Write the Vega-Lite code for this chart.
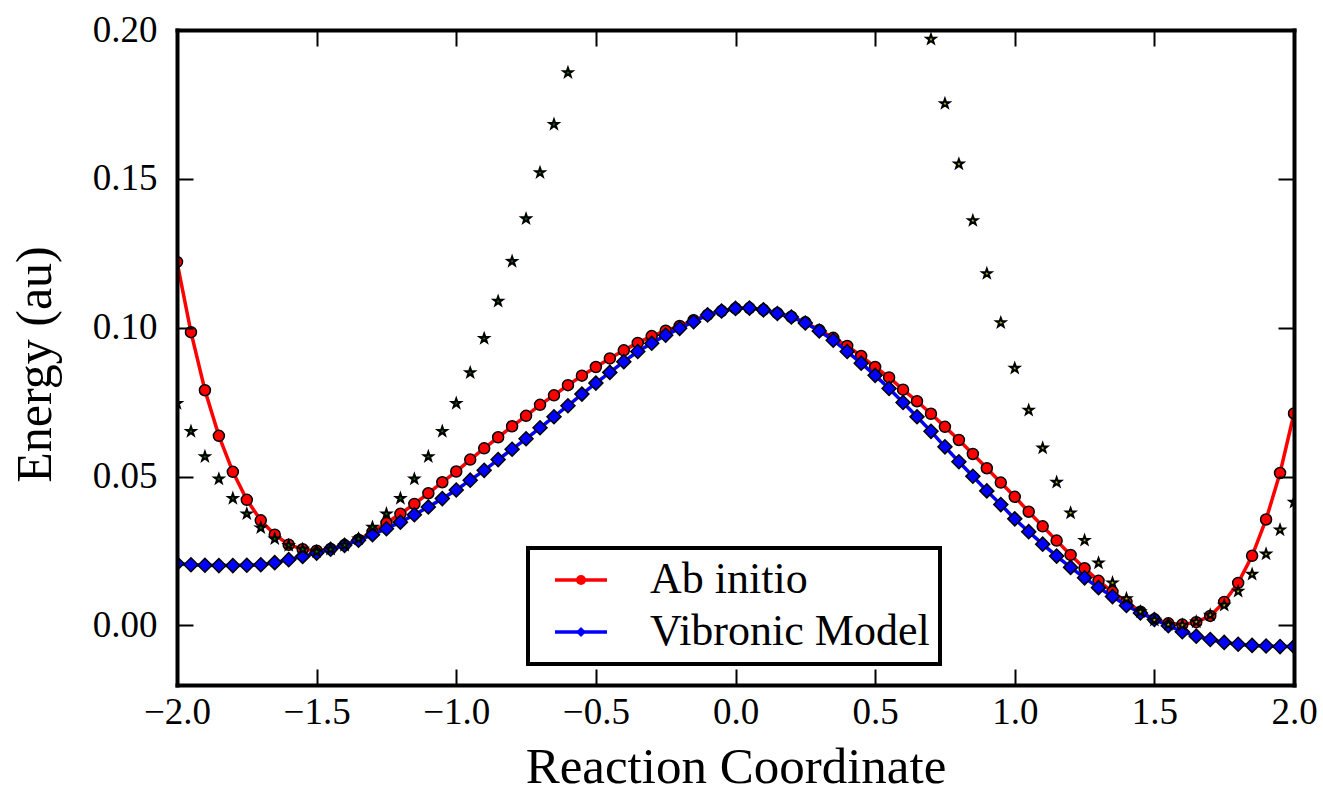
{
  "$schema": "https://vega.github.io/schema/vega-lite/v6.json",
  "width": 1117,
  "height": 655,
  "autosize": "none",
  "padding": {"left": 177, "top": 30, "right": 29, "bottom": 117},
  "background": "white",
  "config": {"view": {"stroke": null}, "font": "Liberation Serif", "legend": {"strokeWidth": 4}},
  "datasets": {
    "curves": [
      {"x": -2.0, "y": 0.1221, "series": "Ab initio"},
      {"x": -1.95, "y": 0.0985, "series": "Ab initio"},
      {"x": -1.9, "y": 0.079, "series": "Ab initio"},
      {"x": -1.85, "y": 0.0637, "series": "Ab initio"},
      {"x": -1.8, "y": 0.0516, "series": "Ab initio"},
      {"x": -1.75, "y": 0.0422, "series": "Ab initio"},
      {"x": -1.7, "y": 0.0353, "series": "Ab initio"},
      {"x": -1.65, "y": 0.0305, "series": "Ab initio"},
      {"x": -1.6, "y": 0.0271, "series": "Ab initio"},
      {"x": -1.55, "y": 0.0256, "series": "Ab initio"},
      {"x": -1.5, "y": 0.0251, "series": "Ab initio"},
      {"x": -1.45, "y": 0.0257, "series": "Ab initio"},
      {"x": -1.4, "y": 0.027, "series": "Ab initio"},
      {"x": -1.35, "y": 0.0288, "series": "Ab initio"},
      {"x": -1.3, "y": 0.0314, "series": "Ab initio"},
      {"x": -1.25, "y": 0.0344, "series": "Ab initio"},
      {"x": -1.2, "y": 0.0375, "series": "Ab initio"},
      {"x": -1.15, "y": 0.0408, "series": "Ab initio"},
      {"x": -1.1, "y": 0.0444, "series": "Ab initio"},
      {"x": -1.05, "y": 0.0481, "series": "Ab initio"},
      {"x": -1.0, "y": 0.0517, "series": "Ab initio"},
      {"x": -0.95, "y": 0.0557, "series": "Ab initio"},
      {"x": -0.9, "y": 0.0595, "series": "Ab initio"},
      {"x": -0.85, "y": 0.0632, "series": "Ab initio"},
      {"x": -0.8, "y": 0.0669, "series": "Ab initio"},
      {"x": -0.75, "y": 0.0704, "series": "Ab initio"},
      {"x": -0.7, "y": 0.0741, "series": "Ab initio"},
      {"x": -0.65, "y": 0.0773, "series": "Ab initio"},
      {"x": -0.6, "y": 0.0807, "series": "Ab initio"},
      {"x": -0.55, "y": 0.0839, "series": "Ab initio"},
      {"x": -0.5, "y": 0.0868, "series": "Ab initio"},
      {"x": -0.45, "y": 0.0897, "series": "Ab initio"},
      {"x": -0.4, "y": 0.0924, "series": "Ab initio"},
      {"x": -0.35, "y": 0.0949, "series": "Ab initio"},
      {"x": -0.3, "y": 0.0972, "series": "Ab initio"},
      {"x": -0.25, "y": 0.099, "series": "Ab initio"},
      {"x": -0.2, "y": 0.1006, "series": "Ab initio"},
      {"x": -0.15, "y": 0.1025, "series": "Ab initio"},
      {"x": -0.1, "y": 0.1043, "series": "Ab initio"},
      {"x": -0.05, "y": 0.1056, "series": "Ab initio"},
      {"x": 0.0, "y": 0.1065, "series": "Ab initio"},
      {"x": 0.05, "y": 0.1066, "series": "Ab initio"},
      {"x": 0.1, "y": 0.106, "series": "Ab initio"},
      {"x": 0.15, "y": 0.1049, "series": "Ab initio"},
      {"x": 0.2, "y": 0.1037, "series": "Ab initio"},
      {"x": 0.25, "y": 0.1018, "series": "Ab initio"},
      {"x": 0.3, "y": 0.0992, "series": "Ab initio"},
      {"x": 0.35, "y": 0.0966, "series": "Ab initio"},
      {"x": 0.4, "y": 0.0939, "series": "Ab initio"},
      {"x": 0.45, "y": 0.0905, "series": "Ab initio"},
      {"x": 0.5, "y": 0.0868, "series": "Ab initio"},
      {"x": 0.55, "y": 0.0833, "series": "Ab initio"},
      {"x": 0.6, "y": 0.0792, "series": "Ab initio"},
      {"x": 0.65, "y": 0.0753, "series": "Ab initio"},
      {"x": 0.7, "y": 0.0711, "series": "Ab initio"},
      {"x": 0.75, "y": 0.0667, "series": "Ab initio"},
      {"x": 0.8, "y": 0.0623, "series": "Ab initio"},
      {"x": 0.85, "y": 0.0576, "series": "Ab initio"},
      {"x": 0.9, "y": 0.0528, "series": "Ab initio"},
      {"x": 0.95, "y": 0.048, "series": "Ab initio"},
      {"x": 1.0, "y": 0.0432, "series": "Ab initio"},
      {"x": 1.05, "y": 0.0382, "series": "Ab initio"},
      {"x": 1.1, "y": 0.0333, "series": "Ab initio"},
      {"x": 1.15, "y": 0.0285, "series": "Ab initio"},
      {"x": 1.2, "y": 0.0237, "series": "Ab initio"},
      {"x": 1.25, "y": 0.0192, "series": "Ab initio"},
      {"x": 1.3, "y": 0.015, "series": "Ab initio"},
      {"x": 1.35, "y": 0.0113, "series": "Ab initio"},
      {"x": 1.4, "y": 0.0079, "series": "Ab initio"},
      {"x": 1.45, "y": 0.0046, "series": "Ab initio"},
      {"x": 1.5, "y": 0.0021, "series": "Ab initio"},
      {"x": 1.55, "y": 0.0007, "series": "Ab initio"},
      {"x": 1.6, "y": 0.0003, "series": "Ab initio"},
      {"x": 1.65, "y": 0.0011, "series": "Ab initio"},
      {"x": 1.7, "y": 0.0032, "series": "Ab initio"},
      {"x": 1.75, "y": 0.0079, "series": "Ab initio"},
      {"x": 1.8, "y": 0.0143, "series": "Ab initio"},
      {"x": 1.85, "y": 0.0234, "series": "Ab initio"},
      {"x": 1.9, "y": 0.0356, "series": "Ab initio"},
      {"x": 1.95, "y": 0.0512, "series": "Ab initio"},
      {"x": 2.0, "y": 0.0712, "series": "Ab initio"},
      {"x": -2.0, "y": 0.0208, "series": "Vibronic Model"},
      {"x": -1.95, "y": 0.0204, "series": "Vibronic Model"},
      {"x": -1.9, "y": 0.0202, "series": "Vibronic Model"},
      {"x": -1.85, "y": 0.0201, "series": "Vibronic Model"},
      {"x": -1.8, "y": 0.0201, "series": "Vibronic Model"},
      {"x": -1.75, "y": 0.0202, "series": "Vibronic Model"},
      {"x": -1.7, "y": 0.0204, "series": "Vibronic Model"},
      {"x": -1.65, "y": 0.0211, "series": "Vibronic Model"},
      {"x": -1.6, "y": 0.0221, "series": "Vibronic Model"},
      {"x": -1.55, "y": 0.0232, "series": "Vibronic Model"},
      {"x": -1.5, "y": 0.0243, "series": "Vibronic Model"},
      {"x": -1.45, "y": 0.0256, "series": "Vibronic Model"},
      {"x": -1.4, "y": 0.0269, "series": "Vibronic Model"},
      {"x": -1.35, "y": 0.0286, "series": "Vibronic Model"},
      {"x": -1.3, "y": 0.0305, "series": "Vibronic Model"},
      {"x": -1.25, "y": 0.0325, "series": "Vibronic Model"},
      {"x": -1.2, "y": 0.0347, "series": "Vibronic Model"},
      {"x": -1.15, "y": 0.0372, "series": "Vibronic Model"},
      {"x": -1.1, "y": 0.0398, "series": "Vibronic Model"},
      {"x": -1.05, "y": 0.0426, "series": "Vibronic Model"},
      {"x": -1.0, "y": 0.0455, "series": "Vibronic Model"},
      {"x": -0.95, "y": 0.0488, "series": "Vibronic Model"},
      {"x": -0.9, "y": 0.0521, "series": "Vibronic Model"},
      {"x": -0.85, "y": 0.0557, "series": "Vibronic Model"},
      {"x": -0.8, "y": 0.0592, "series": "Vibronic Model"},
      {"x": -0.75, "y": 0.0627, "series": "Vibronic Model"},
      {"x": -0.7, "y": 0.0664, "series": "Vibronic Model"},
      {"x": -0.65, "y": 0.0701, "series": "Vibronic Model"},
      {"x": -0.6, "y": 0.0738, "series": "Vibronic Model"},
      {"x": -0.55, "y": 0.0777, "series": "Vibronic Model"},
      {"x": -0.5, "y": 0.0814, "series": "Vibronic Model"},
      {"x": -0.45, "y": 0.085, "series": "Vibronic Model"},
      {"x": -0.4, "y": 0.0886, "series": "Vibronic Model"},
      {"x": -0.35, "y": 0.092, "series": "Vibronic Model"},
      {"x": -0.3, "y": 0.0948, "series": "Vibronic Model"},
      {"x": -0.25, "y": 0.0975, "series": "Vibronic Model"},
      {"x": -0.2, "y": 0.0998, "series": "Vibronic Model"},
      {"x": -0.15, "y": 0.102, "series": "Vibronic Model"},
      {"x": -0.1, "y": 0.1043, "series": "Vibronic Model"},
      {"x": -0.05, "y": 0.1056, "series": "Vibronic Model"},
      {"x": 0.0, "y": 0.1065, "series": "Vibronic Model"},
      {"x": 0.05, "y": 0.1066, "series": "Vibronic Model"},
      {"x": 0.1, "y": 0.106, "series": "Vibronic Model"},
      {"x": 0.15, "y": 0.1048, "series": "Vibronic Model"},
      {"x": 0.2, "y": 0.1036, "series": "Vibronic Model"},
      {"x": 0.25, "y": 0.1016, "series": "Vibronic Model"},
      {"x": 0.3, "y": 0.0989, "series": "Vibronic Model"},
      {"x": 0.35, "y": 0.0958, "series": "Vibronic Model"},
      {"x": 0.4, "y": 0.092, "series": "Vibronic Model"},
      {"x": 0.45, "y": 0.0881, "series": "Vibronic Model"},
      {"x": 0.5, "y": 0.084, "series": "Vibronic Model"},
      {"x": 0.55, "y": 0.0796, "series": "Vibronic Model"},
      {"x": 0.6, "y": 0.0749, "series": "Vibronic Model"},
      {"x": 0.65, "y": 0.0701, "series": "Vibronic Model"},
      {"x": 0.7, "y": 0.0652, "series": "Vibronic Model"},
      {"x": 0.75, "y": 0.06, "series": "Vibronic Model"},
      {"x": 0.8, "y": 0.055, "series": "Vibronic Model"},
      {"x": 0.85, "y": 0.0501, "series": "Vibronic Model"},
      {"x": 0.9, "y": 0.0452, "series": "Vibronic Model"},
      {"x": 0.95, "y": 0.0406, "series": "Vibronic Model"},
      {"x": 1.0, "y": 0.0358, "series": "Vibronic Model"},
      {"x": 1.05, "y": 0.0315, "series": "Vibronic Model"},
      {"x": 1.1, "y": 0.0273, "series": "Vibronic Model"},
      {"x": 1.15, "y": 0.0233, "series": "Vibronic Model"},
      {"x": 1.2, "y": 0.0195, "series": "Vibronic Model"},
      {"x": 1.25, "y": 0.016, "series": "Vibronic Model"},
      {"x": 1.3, "y": 0.0127, "series": "Vibronic Model"},
      {"x": 1.35, "y": 0.0097, "series": "Vibronic Model"},
      {"x": 1.4, "y": 0.0067, "series": "Vibronic Model"},
      {"x": 1.45, "y": 0.0042, "series": "Vibronic Model"},
      {"x": 1.5, "y": 0.002, "series": "Vibronic Model"},
      {"x": 1.55, "y": -0.0001, "series": "Vibronic Model"},
      {"x": 1.6, "y": -0.0021, "series": "Vibronic Model"},
      {"x": 1.65, "y": -0.0036, "series": "Vibronic Model"},
      {"x": 1.7, "y": -0.0047, "series": "Vibronic Model"},
      {"x": 1.75, "y": -0.0057, "series": "Vibronic Model"},
      {"x": 1.8, "y": -0.0063, "series": "Vibronic Model"},
      {"x": 1.85, "y": -0.0067, "series": "Vibronic Model"},
      {"x": 1.9, "y": -0.0069, "series": "Vibronic Model"},
      {"x": 1.95, "y": -0.0071, "series": "Vibronic Model"},
      {"x": 2.0, "y": -0.0071, "series": "Vibronic Model"}
    ],
    "stars": [
      {"x": -2.0, "y": 0.0746, "curve": "left"},
      {"x": -1.95, "y": 0.0652, "curve": "left"},
      {"x": -1.9, "y": 0.0567, "curve": "left"},
      {"x": -1.85, "y": 0.0492, "curve": "left"},
      {"x": -1.8, "y": 0.0427, "curve": "left"},
      {"x": -1.75, "y": 0.0375, "curve": "left"},
      {"x": -1.7, "y": 0.0328, "curve": "left"},
      {"x": -1.65, "y": 0.0291, "curve": "left"},
      {"x": -1.6, "y": 0.0269, "curve": "left"},
      {"x": -1.55, "y": 0.0256, "curve": "left"},
      {"x": -1.5, "y": 0.0248, "curve": "left"},
      {"x": -1.45, "y": 0.0256, "curve": "left"},
      {"x": -1.4, "y": 0.0269, "curve": "left"},
      {"x": -1.35, "y": 0.0291, "curve": "left"},
      {"x": -1.3, "y": 0.033, "curve": "left"},
      {"x": -1.25, "y": 0.0375, "curve": "left"},
      {"x": -1.2, "y": 0.0427, "curve": "left"},
      {"x": -1.15, "y": 0.0492, "curve": "left"},
      {"x": -1.1, "y": 0.0567, "curve": "left"},
      {"x": -1.05, "y": 0.0652, "curve": "left"},
      {"x": -1.0, "y": 0.0746, "curve": "left"},
      {"x": -0.95, "y": 0.0849, "curve": "left"},
      {"x": -0.9, "y": 0.0964, "curve": "left"},
      {"x": -0.85, "y": 0.1089, "curve": "left"},
      {"x": -0.8, "y": 0.1223, "curve": "left"},
      {"x": -0.75, "y": 0.1366, "curve": "left"},
      {"x": -0.7, "y": 0.1521, "curve": "left"},
      {"x": -0.65, "y": 0.1683, "curve": "left"},
      {"x": -0.6, "y": 0.1857, "curve": "left"},
      {"x": 0.7, "y": 0.1969, "curve": "right"},
      {"x": 0.75, "y": 0.1753, "curve": "right"},
      {"x": 0.8, "y": 0.155, "curve": "right"},
      {"x": 0.85, "y": 0.136, "curve": "right"},
      {"x": 0.9, "y": 0.1182, "curve": "right"},
      {"x": 0.95, "y": 0.1017, "curve": "right"},
      {"x": 1.0, "y": 0.0864, "curve": "right"},
      {"x": 1.05, "y": 0.0723, "curve": "right"},
      {"x": 1.1, "y": 0.0596, "curve": "right"},
      {"x": 1.15, "y": 0.0481, "curve": "right"},
      {"x": 1.2, "y": 0.0378, "curve": "right"},
      {"x": 1.25, "y": 0.0286, "curve": "right"},
      {"x": 1.3, "y": 0.021, "curve": "right"},
      {"x": 1.35, "y": 0.0143, "curve": "right"},
      {"x": 1.4, "y": 0.009, "curve": "right"},
      {"x": 1.45, "y": 0.0046, "curve": "right"},
      {"x": 1.5, "y": 0.0018, "curve": "right"},
      {"x": 1.55, "y": 0.0003, "curve": "right"},
      {"x": 1.6, "y": 0.0001, "curve": "right"},
      {"x": 1.65, "y": 0.0012, "curve": "right"},
      {"x": 1.7, "y": 0.0035, "curve": "right"},
      {"x": 1.75, "y": 0.0068, "curve": "right"},
      {"x": 1.8, "y": 0.0115, "curve": "right"},
      {"x": 1.85, "y": 0.0172, "curve": "right"},
      {"x": 1.9, "y": 0.024, "curve": "right"},
      {"x": 1.95, "y": 0.0321, "curve": "right"},
      {"x": 2.0, "y": 0.0414, "curve": "right"}
    ]
  },
  "resolve": {"axis": {"x": "independent", "y": "independent"}},
  "layer": [
    {
      "data": {"name": "curves"},
      "transform": [{"filter": "datum.series === 'Ab initio'"}],
      "mark": {"type": "line", "strokeWidth": 3.5, "clip": true},
      "encoding": {
        "x": {
          "field": "x", "type": "quantitative",
          "scale": {"domain": [-2, 2], "nice": false, "zero": false},
          "axis": {
            "orient": "bottom", "values": [-2, -1.5, -1, -0.5, 0, 0.5, 1, 1.5, 2], "format": ".1f",
            "title": "Reaction Coordinate", "titleFont": "Liberation Serif", "titleFontSize": 51,
            "titleFontWeight": "normal", "titleColor": "black", "titleX": 558.5, "titleY": 97,
            "titleBaseline": "alphabetic", "titleAlign": "center",
            "labelFont": "Liberation Serif", "labelFontSize": 37, "labelColor": "black",
            "labelBaseline": "alphabetic", "labelPadding": 54, "labelFlush": false, "labelOverlap": false,
            "domain": true, "domainColor": "black", "domainWidth": 4, "domainCap": "square",
            "ticks": true, "tickColor": "black", "tickWidth": 2, "tickSize": -16,
            "grid": false, "zindex": 1
          }
        },
        "y": {
          "field": "y", "type": "quantitative",
          "scale": {"domain": [-0.02, 0.2], "nice": false, "zero": false},
          "axis": {
            "orient": "left", "values": [0, 0.05, 0.1, 0.15, 0.2], "format": ".2f",
            "title": "Energy (au)", "titleFont": "Liberation Serif", "titleFontSize": 50,
            "titleFontWeight": "normal", "titleColor": "black", "titleX": -142, "titleY": 334,
            "titleBaseline": "middle", "titleAlign": "center", "titleAngle": -90,
            "labelFont": "Liberation Serif", "labelFontSize": 37, "labelColor": "black",
            "labelBaseline": "middle", "labelPadding": 36, "labelFlush": false, "labelOverlap": false,
            "domain": true, "domainColor": "black", "domainWidth": 4, "domainCap": "square",
            "ticks": true, "tickColor": "black", "tickWidth": 2, "tickSize": -16,
            "grid": false, "zindex": 1
          }
        },
        "color": {
          "field": "series", "type": "nominal",
          "scale": {"domain": ["Ab initio", "Vibronic Model"], "range": ["#ff0000", "#0000ff"]},
          "legend": {
            "orient": "none", "legendX": 351, "legendY": 518, "title": null,
            "symbolType": "M-5.2,0L5.2,0", "symbolSize": 100, "symbolStrokeWidth": 3.5,
            "symbolOffset": 21, "labelFont": "Liberation Serif", "labelFontSize": 44, "labelColor": "black",
            "labelOffset": 47, "labelBaseline": "middle", "labelLimit": 0,
            "padding": 10, "rowPadding": 8, "strokeColor": "black", "fillColor": "white",
            "cornerRadius": 0
          }
        }
      }
    },
    {
      "data": {"name": "curves"},
      "transform": [{"filter": "datum.series === 'Ab initio'"}],
      "mark": {"type": "point", "filled": true, "size": 121, "stroke": "black", "strokeWidth": 1.5, "opacity": 1, "clip": true},
      "encoding": {
        "x": {"field": "x", "type": "quantitative", "scale": {"domain": [-2, 2], "nice": false, "zero": false}, "axis": null},
        "y": {"field": "y", "type": "quantitative", "scale": {"domain": [-0.02, 0.2], "nice": false, "zero": false}, "axis": null},
        "fill": {
          "field": "series", "type": "nominal",
          "scale": {"range": ["#ff0000", "#0000ff"]},
          "legend": {
            "orient": "none", "legendX": 351, "legendY": 518, "title": null,
            "symbolSize": 100, "symbolStrokeWidth": 1.5, "symbolStrokeColor": "black",
            "symbolOffset": 21, "labelFont": "Liberation Serif", "labelFontSize": 44,
            "labelOffset": 47, "labelBaseline": "middle", "labelLimit": 0, "labelOpacity": 0,
            "padding": 10, "rowPadding": 8,
            "encode": {"symbols": {"update": {
              "shape": {"value": {"expr": "datum.value === 'Ab initio' ? 'M-6.2,0A1,1 0 1,0 -4.2,0A1,1 0 1,0 -6.2,0Z M4.2,0A1,1 0 1,0 6.2,0A1,1 0 1,0 4.2,0Z' : 'M-6.5,0L-5.2,-1.3L-3.9,0L-5.2,1.3Z M3.9,0L5.2,-1.3L6.5,0L5.2,1.3Z'"}},
              "stroke": {"value": "black"}
            }}}
          }
        },
        "shape": {
          "field": "series", "type": "nominal",
          "scale": {"range": ["circle", "diamond"]},
          "legend": {
            "orient": "none", "legendX": 351, "legendY": 518, "title": null,
            "symbolSize": 100, "symbolStrokeWidth": 1.5, "symbolStrokeColor": "black",
            "symbolOffset": 21, "labelFont": "Liberation Serif", "labelFontSize": 44,
            "labelOffset": 47, "labelBaseline": "middle", "labelLimit": 0, "labelOpacity": 0,
            "padding": 10, "rowPadding": 8,
            "encode": {"symbols": {"update": {
              "shape": {"value": {"expr": "datum.value === 'Ab initio' ? 'M-6.2,0A1,1 0 1,0 -4.2,0A1,1 0 1,0 -6.2,0Z M4.2,0A1,1 0 1,0 6.2,0A1,1 0 1,0 4.2,0Z' : 'M-6.5,0L-5.2,-1.3L-3.9,0L-5.2,1.3Z M3.9,0L5.2,-1.3L6.5,0L5.2,1.3Z'"}},
              "stroke": {"value": "black"}
            }}}
          }
        }
      }
    },
    {
      "data": {"name": "curves"},
      "transform": [{"filter": "datum.series === 'Vibronic Model'"}],
      "mark": {"type": "line", "strokeWidth": 3.5, "clip": true},
      "encoding": {
        "x": {"field": "x", "type": "quantitative", "scale": {"domain": [-2, 2], "nice": false, "zero": false}, "axis": null},
        "y": {"field": "y", "type": "quantitative", "scale": {"domain": [-0.02, 0.2], "nice": false, "zero": false}, "axis": null},
        "color": {"field": "series", "type": "nominal", "scale": {"domain": ["Ab initio", "Vibronic Model"], "range": ["#ff0000", "#0000ff"]}}
      }
    },
    {
      "data": {"name": "curves"},
      "transform": [{"filter": "datum.series === 'Vibronic Model'"}],
      "mark": {"type": "point", "filled": true, "size": 196, "stroke": "black", "strokeWidth": 1.5, "opacity": 1, "clip": true},
      "encoding": {
        "x": {"field": "x", "type": "quantitative", "scale": {"domain": [-2, 2], "nice": false, "zero": false}, "axis": null},
        "y": {"field": "y", "type": "quantitative", "scale": {"domain": [-0.02, 0.2], "nice": false, "zero": false}, "axis": null},
        "fill": {"field": "series", "type": "nominal", "scale": {"range": ["#ff0000", "#0000ff"]}},
        "shape": {"field": "series", "type": "nominal", "scale": {"range": ["circle", "diamond"]}}
      }
    },
    {
      "data": {"name": "stars"},
      "transform": [{"filter": "datum.curve === 'left'"}],
      "mark": {"type": "point", "shape": "M0,-1L0.235,-0.324L0.951,-0.309L0.38,0.124L0.588,0.809L0,0.4L-0.588,0.809L-0.38,0.124L-0.951,-0.309L-0.235,-0.324Z", "filled": true, "fill": "#008000", "stroke": "black", "strokeWidth": 2, "size": 90, "opacity": 1, "clip": true},
      "encoding": {
        "x": {
          "field": "x", "type": "quantitative", "scale": {"domain": [-2, 2], "nice": false, "zero": false},
          "axis": {
            "orient": "top", "values": [-2, -1.5, -1, -0.5, 0, 0.5, 1, 1.5, 2], "labels": false, "title": null,
            "domain": true, "domainColor": "black", "domainWidth": 4, "domainCap": "square",
            "ticks": true, "tickColor": "black", "tickWidth": 2, "tickSize": -16, "grid": false, "zindex": 1
          }
        },
        "y": {
          "field": "y", "type": "quantitative", "scale": {"domain": [-0.02, 0.2], "nice": false, "zero": false},
          "axis": {
            "orient": "right", "values": [0, 0.05, 0.1, 0.15, 0.2], "labels": false, "title": null,
            "domain": true, "domainColor": "black", "domainWidth": 4, "domainCap": "square",
            "ticks": true, "tickColor": "black", "tickWidth": 2, "tickSize": -16, "grid": false, "zindex": 1
          }
        }
      }
    },
    {
      "data": {"name": "stars"},
      "transform": [{"filter": "datum.curve === 'right'"}],
      "mark": {"type": "point", "shape": "M0,-1L0.235,-0.324L0.951,-0.309L0.38,0.124L0.588,0.809L0,0.4L-0.588,0.809L-0.38,0.124L-0.951,-0.309L-0.235,-0.324Z", "filled": true, "fill": "#bfbf00", "stroke": "black", "strokeWidth": 2, "size": 90, "opacity": 1, "clip": true},
      "encoding": {
        "x": {"field": "x", "type": "quantitative", "scale": {"domain": [-2, 2], "nice": false, "zero": false}, "axis": null},
        "y": {"field": "y", "type": "quantitative", "scale": {"domain": [-0.02, 0.2], "nice": false, "zero": false}, "axis": null}
      }
    }
  ]
}
